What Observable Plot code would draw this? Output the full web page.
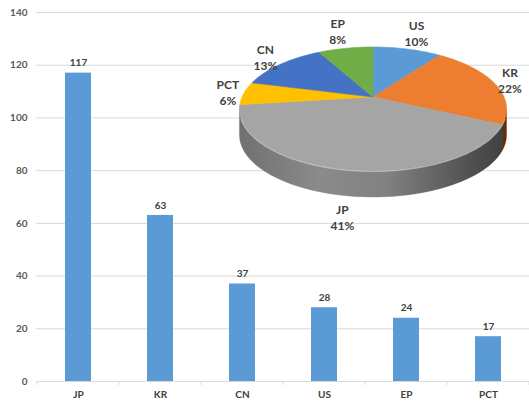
<!DOCTYPE html>
<html>
<head>
<meta charset="utf-8">
<script src="https://cdn.jsdelivr.net/npm/d3@7"></script>
<script src="https://cdn.jsdelivr.net/npm/@observablehq/plot@0.6"></script>
<style>
  html, body { margin: 0; padding: 0; background: #ffffff; }
  #chart svg { display: block; }
</style>
</head>
<body>
<div id="chart"></div>
<script>
// ---- data ----
const categories = ["JP", "KR", "CN", "US", "EP", "PCT"];
const counts = [117, 63, 37, 28, 24, 17];
const yTicks = [0, 20, 40, 60, 80, 100, 120, 140];

const pieLabels = ["US", "KR", "JP", "PCT", "CN", "EP"];
const piePercents = [10, 22, 41, 6, 13, 8];
const pieColors = ["#5B9BD5", "#ED7D31", "#A5A5A5", "#FFC000", "#4472C4", "#70AD47"];
const barColor = "#5B9BD5";

const bars = categories.map((c, i) => ({category: c, count: counts[i]}));
const slices = pieLabels.map((l, i) => ({label: l, pct: piePercents[i], color: pieColors[i]}));

const FONT = "Lato, 'Open Sans', 'DejaVu Sans', sans-serif";

// band boundary tick marks on the x axis
function boundaryTicks(index, scales, values, dims) {
  const x = scales.x;
  const bw = typeof x.bandwidth === "function" ? x.bandwidth() : x.bandwidth;
  const step = x(categories[1]) - x(categories[0]);
  const y0 = scales.y(0);
  const g = d3.create("svg:g");
  const edges = categories.map(c => x(c) - (step - bw) / 2);
  edges.push(edges[edges.length - 1] + step);
  for (const e of edges) {
    g.append("line").attr("x1", e).attr("x2", e).attr("y1", y0).attr("y2", y0 + 4)
      .attr("stroke", "#d9d9d9");
  }
  return g.node();
}

// 3D-looking pie inset drawn with d3.pie and a perspective projection
function pieMark(index, scales, values, dims) {
  const cx = 373, cy = 97;        // projected pie centre
  const rx = 131, ry = 59.7;      // radii of the disc
  const C = -0.1935;              // perspective factor
  const depth = 26;               // thickness
  const proj = (t, r, dz) => {
    const u = r * Math.sin(t), v = -r * Math.cos(t);
    const den = 1 + C * v;
    return [cx + rx * u / den, cy + ry * v / den + dz];
  };
  const ring = (a0, a1, dz) => {
    const n = Math.max(2, Math.ceil(Math.abs(a1 - a0) * 40));
    return d3.range(n + 1).map(i => proj(a0 + (a1 - a0) * i / n, 1, dz));
  };
  const arcs = d3.pie().sort(null).value(d => d.pct)(slices);
  const tR = Math.acos(C), tL = 2 * Math.PI - tR;

  const g = d3.create("svg:g");
  const defs = g.append("defs");
  const xl = proj(tL, 1, 0)[0], xr = proj(tR, 1, 0)[0];
  const grad = defs.append("linearGradient").attr("id", "sideShade")
    .attr("gradientUnits", "userSpaceOnUse")
    .attr("x1", xl).attr("x2", xr).attr("y1", 0).attr("y2", 0);
  [[0, 0.32], [0.3, 0.16], [0.55, 0.22], [0.85, 0.5], [1, 0.62]].forEach(([o, a]) =>
    grad.append("stop").attr("offset", o).attr("stop-color", "#000").attr("stop-opacity", a));

  // side walls
  for (const a of arcs) {
    const s = Math.max(a.startAngle, tR), e = Math.min(a.endAngle, tL);
    if (e <= s) continue;
    const pts = ring(s, e, 0).concat(ring(s, e, depth).reverse());
    g.append("path").attr("d", "M" + pts.join("L") + "Z")
      .attr("fill", a.data.color).attr("stroke", a.data.color).attr("stroke-width", 0.5);
  }
  const sidePts = ring(tR, tL, 0).concat(ring(tR, tL, depth).reverse());
  g.append("path").attr("d", "M" + sidePts.join("L") + "Z").attr("fill", "url(#sideShade)");

  // top face
  for (const a of arcs) {
    const pts = [[cx, cy]].concat(ring(a.startAngle, a.endAngle, 0));
    g.append("path").attr("d", "M" + pts.join("L") + "Z")
      .attr("fill", a.data.color).attr("stroke", a.data.color).attr("stroke-width", 0.6)
      .attr("stroke-linejoin", "round");
  }
  // front edge highlight
  g.append("path").attr("d", "M" + ring(tR + 0.15, tL - 0.15, 0.5).join("L"))
    .attr("fill", "none").attr("stroke", "#ffffff").attr("stroke-opacity", 0.35).attr("stroke-width", 1.2);

  // labels: placed just outside the slice edge, along the screen direction from the centre
  const hw = 12, hh = 15, gap = 4;
  for (const a of arcs) {
    const mid = (a.startAngle + a.endAngle) / 2;
    const front = -Math.cos(mid) > 0.5;
    const pb = proj(mid, 1, 0);
    const dx = pb[0] - cx, dy = pb[1] - cy, len = Math.hypot(dx, dy);
    let lx = pb[0] + dx / len * (gap + hw);
    let ly = pb[1] + (front ? depth + gap : 0) + dy / len * (gap + hh);
    lx = Math.min(lx, dims.width - hw - 4);
    const t = g.append("text").attr("text-anchor", "middle")
      .attr("font-family", FONT).attr("font-weight", "bold").attr("font-size", 12)
      .attr("fill", "#404040");
    t.append("tspan").attr("x", lx).attr("y", ly - 4).text(a.data.label);
    t.append("tspan").attr("x", lx).attr("y", ly + 12).text(a.data.pct + "%");
  }
  return g.node();
}

const chart = Plot.plot({
  width: 529,
  height: 405,
  marginTop: 12,
  marginBottom: 24,
  marginLeft: 36,
  marginRight: 0,
  style: {fontFamily: FONT, fontSize: "10px", background: "#ffffff", color: "#595959"},
  x: {domain: categories, paddingInner: 0.685, paddingOuter: 0.3425, label: null},
  y: {domain: [0, 140], label: null},
  marks: [
    Plot.gridY(yTicks, {stroke: "#d9d9d9", strokeOpacity: 1}),
    Plot.axisY(yTicks, {tickSize: 0, tickPadding: 9, fontWeight: "bold", fill: "#595959", label: null}),
    Plot.axisX({tickSize: 0, tickPadding: 9, fontWeight: "bold", fill: "#404040", label: null}),
    Plot.barY(bars, {x: "category", y: "count", fill: barColor}),
    Plot.ruleY([0], {stroke: "#d9d9d9"}),
    boundaryTicks,
    Plot.text(bars, {x: "category", y: "count", text: d => String(d.count), dy: -10,
      fontWeight: "bold", fill: "#404040"}),
    pieMark
  ]
});
document.getElementById("chart").appendChild(chart);
</script>
</body>
</html>
